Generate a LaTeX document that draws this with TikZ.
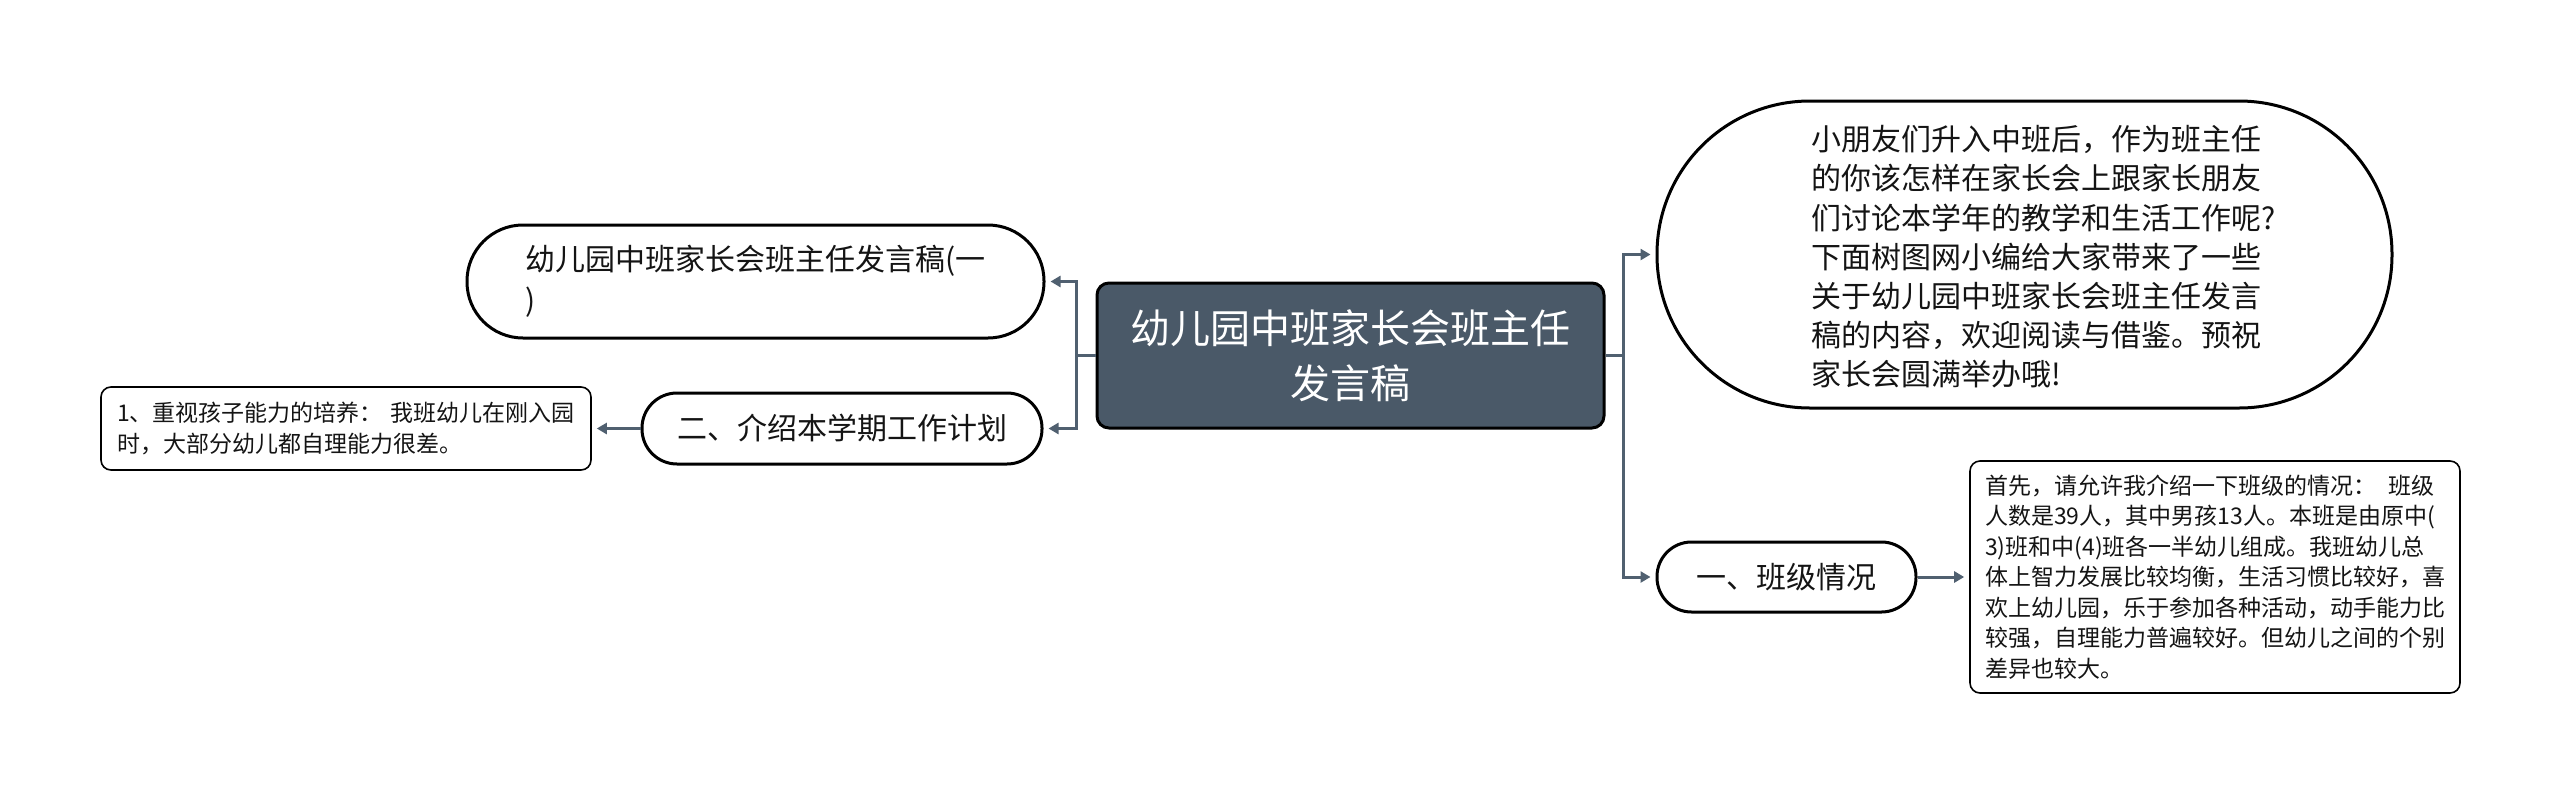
\documentclass[tikz,border=0pt]{standalone}
\usepackage{fontspec}
\setmainfont{Noto Sans CJK SC}
\usetikzlibrary{arrows.meta}
\definecolor{slate}{RGB}{74,89,104}
\definecolor{connc}{RGB}{80,96,112}
\definecolor{ink}{RGB}{20,20,20}
\begin{document}
\begin{tikzpicture}[x=1pt,y=-1pt,
  base/.style={draw=black, inner sep=0pt, align=center, text=ink},
  central/.style={base, fill=slate, line width=3pt, rounded corners=12pt, text=white, font=\fontsize{40}{55}\selectfont},
  pill/.style={base, line width=3pt, font=\fontsize{30}{41}\selectfont},
  textbox/.style={base, line width=1.6pt, rounded corners=10pt, align=left, font=\fontsize{23}{30.5}\selectfont},
  link/.style={draw=connc, line width=3pt, -{Triangle[length=10pt,width=11pt]}, shorten >=5pt}
]
\useasboundingbox (0,0) rectangle (2560,793);

\node[central, minimum width=507pt, minimum height=145pt] (c) at (1350.5,355.5) {幼儿园中班家长会班主任\\发言稿};

\node[pill, rounded corners=153pt, minimum width=735pt, minimum height=307pt] (bubble) at (2024.5,254.5) {};
\node[inner sep=0pt, align=left, text=ink, font=\fontsize{30}{39.2}\selectfont] (bubbletext) at (2044,257) {小朋友们升入中班后，作为班主任\\的你该怎样在家长会上跟家长朋友\\们讨论本学年的教学和生活工作呢?\\下面树图网小编给大家带来了一些\\关于幼儿园中班家长会班主任发言\\稿的内容，欢迎阅读与借鉴。预祝\\家长会圆满举办哦!};

\node[pill, rounded corners=34.5pt, minimum width=259pt, minimum height=70pt] (ban) at (1786.5,577) {一、班级情况};

\node[textbox, minimum width=490pt, minimum height=232pt] (rb) at (2215,577) {首先，请允许我介绍一下班级的情况：\hspace{12pt}班级\\人数是39人，其中男孩13人。本班是由原中(\\3)班和中(4)班各一半幼儿组成。我班幼儿总\\体上智力发展比较均衡，生活习惯比较好，喜\\欢上幼儿园，乐于参加各种活动，动手能力比\\较强，自理能力普遍较好。但幼儿之间的个别\\差异也较大。};

\node[pill, rounded corners=56pt, minimum width=577pt, minimum height=113pt, align=left] (tl) at (755.5,281.5) {幼儿园中班家长会班主任发言稿(一\\)};

\node[pill, rounded corners=35pt, minimum width=400pt, minimum height=71pt] (er) at (842,428.5) {二、介绍本学期工作计划};

\node[textbox, minimum width=490pt, minimum height=83pt] (lb) at (346,428.5) {1、重视孩子能力的培养：\hspace{8pt}我班幼儿在刚入园\\时，大部分幼儿都自理能力很差。};

\draw[link] (c.west) -- ++(-19,0) |- (tl.east);
\draw[link] (c.west) -- ++(-19,0) |- (er.east);
\draw[link] (c.east) -- ++(18,0) |- (bubble.west);
\draw[link] (c.east) -- ++(18,0) |- (ban.west);
\draw[link] (ban.east) -- (rb.west);
\draw[link] (er.west) -- (lb.east);
\end{tikzpicture}
\end{document}
